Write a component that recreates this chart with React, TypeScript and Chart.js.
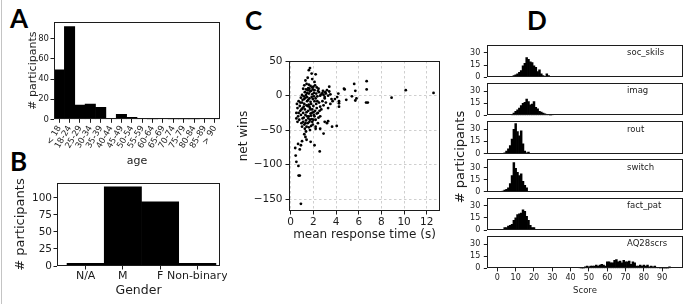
import React, { useEffect, useRef } from "react";
import { Chart, registerables } from "chart.js";
Chart.register(...registerables);

// ---------------- DATA ----------------
const ageCategories = ["< 18", "18-24", "25-29", "30-34", "35-39", "40-44", "45-49", "50-54", "55-59", "60-64", "65-69", "70-74", "75-79", "80-84", "85-89", "> 90"];
const ageCounts = [49, 92, 14, 15, 12, 1, 5, 2, 1, 0, 1, 0, 0, 0, 1, 1];

const genderLabels = ["N/A", "M", "F", "Non-binary"];
const genderCounts = [4, 116, 94, 4];

// [mean response time (s), net wins]
const responseVsWins: [number, number][] = [
  [1.7, 40], [1.6, 37], [1.85, 32], [2.2, 31], [1.5, 26], [1.3, 22], [1.9, 24], [2.1, 20], [1.4, 17], [1.2, 15],
  [1.6, 16], [1.75, 14], [2.0, 13], [2.3, 12], [1.1, 10], [1.35, 9], [1.5, 8], [1.65, 10], [1.8, 7], [1.95, 9],
  [2.1, 8], [2.4, 7], [1.25, 5], [1.45, 4], [1.6, 3], [1.7, 6], [1.9, 2], [2.05, 4], [2.25, 3], [2.5, 5],
  [2.7, 2], [2.9, 1], [3.1, 3], [3.3, 0], [3.4, 6], [3.0, -2], [2.8, 4], [3.5, 2], [3.6, -5], [2.6, 0],
  [1.0, 1], [0.9, -3], [1.15, -1], [2.35, -1], [3.2, 8], [3.4, 13], [2.85, 7], [1.55, 11], [2.15, 15],
  [0.55, -12], [0.6, -18], [0.5, -25], [0.65, -30], [0.7, -8], [0.8, -15], [0.85, -22], [0.9, -28], [0.75, -35], [0.95, -40],
  [1.0, -10], [1.05, -18], [1.1, -25], [1.15, -32], [1.2, -12], [1.25, -20], [1.3, -28], [1.35, -36], [1.4, -45], [1.45, -8],
  [1.5, -15], [1.55, -22], [1.6, -30], [1.65, -38], [1.7, -18], [1.75, -26], [1.8, -12], [1.85, -34], [1.9, -20], [1.95, -42],
  [2.0, -15], [2.05, -28], [2.1, -8], [2.15, -22], [2.2, -35], [2.25, -12], [2.3, -18], [2.4, -25], [2.5, -10], [2.6, -16],
  [1.2, -5], [1.3, -3], [1.45, -2], [1.55, -6], [1.65, -4], [1.75, -9], [1.85, -2], [1.95, -5], [2.05, -1], [2.2, -4],
  [1.0, -45], [1.1, -38], [1.25, -48], [1.35, -52], [1.5, -40], [1.6, -46], [1.7, -50], [1.8, -44], [1.9, -38], [2.0, -35],
  [2.1, -30], [2.3, -26], [2.45, -32], [2.7, -20], [2.9, -14], [3.1, -10], [3.3, -18], [3.5, -12], [3.7, -8], [3.9, -5],
  [4.1, -2], [2.8, -8], [3.0, -4], [1.15, -16], [1.4, -24], [1.6, -13], [1.8, -29], [2.0, -24], [1.3, -40], [1.55, -33],
  [1.75, -20], [0.95, -20], [1.05, -33], [1.2, -42], [1.45, -30], [1.65, -16], [1.85, -25], [2.35, -8], [2.55, -22], [0.7, -25],
  [0.6, -38], [0.5, -33], [1.4, -14], [1.7, -35], [2.2, -48], [2.4, -40], [2.6, -30], [3.0, -38], [3.3, -37], [2.9, -55],
  [0.4, -76], [0.65, -70], [1.0, -66], [1.4, -64], [1.76, -67], [2.1, -72], [1.2, -56], [1.3, -60], [0.9, -72], [0.8, -78],
  [2.56, -81], [0.44, -87], [0.5, -96], [0.68, -102], [0.7, -116], [0.8, -116], [0.9, -157],
  [12.6, 4], [10.15, 8], [8.9, -3], [6.7, 21], [6.7, 9], [6.65, -10], [6.8, -10], [5.6, 17], [5.7, 7], [5.7, -7],
  [5.8, -4], [5.4, -1], [4.9, -6], [4.7, 10], [4.76, 9], [4.26, -8], [4.26, -11], [4.26, -16], [4.2, 3], [4.06, -44],
  [3.65, -45], [3.2, -40], [2.6, -48], [2.2, -45], [1.35, 1], [1.05, -6], [0.85, -10], [1.9, 12], [2.45, 10], [3.05, 5],
];

// Score histograms (bin start score + counts per integer score)
const socSkilsStart = 8;
const socSkilsCounts = [1, 2, 3, 4, 6, 8, 14, 17, 24, 22, 19, 18, 14, 12, 7, 9, 4, 2, 1, 4, 2];
const imagStart = 8;
const imagCounts = [1, 3, 5, 7, 9, 12, 15, 16, 20, 17, 13, 14, 17, 10, 8, 5, 4, 3, 2, 1, 1, 0, 1];
const routStart = 4;
const routCounts = [1, 3, 6, 10, 18, 30, 37, 27, 22, 28, 12, 3, 1, 2];
const switchStart = 3;
const switchCounts = [1, 2, 3, 5, 10, 20, 36, 29, 24, 20, 22, 13, 8, 5];
const factPatStart = 4;
const factPatCounts = [3, 3, 5, 6, 7, 12, 15, 19, 20, 21, 25, 23, 17, 12, 6, 3, 3];
const aq28Start = 45;
const aq28Counts = [1, 0, 0, 2, 3, 2, 3, 3, 3, 4, 3, 4, 5, 4, 3, 8, 8, 7, 7, 10, 11, 8, 9, 7, 10, 8, 8, 9, 5, 8, 7, 3, 3, 4, 3, 4, 3, 4, 2, 3, 2, 3, 1, 1, 0, 1, 0, 0, 0, 2];

const scoreSeries = [
  { name: "soc_skils", start: socSkilsStart, counts: socSkilsCounts },
  { name: "imag", start: imagStart, counts: imagCounts },
  { name: "rout", start: routStart, counts: routCounts },
  { name: "switch", start: switchStart, counts: switchCounts },
  { name: "fact_pat", start: factPatStart, counts: factPatCounts },
  { name: "AQ28scrs", start: aq28Start, counts: aq28Counts },
];

const ageTicks = [0, 20, 40, 60, 80];
const genderTicks = [0, 25, 50, 75, 100];
const winsTicks = [-150, -100, -50, 0, 50];
const timeTicks = [0, 2, 4, 6, 8, 10, 12];
const countTicks = [0, 15, 30];
const scoreTicks = [0, 10, 20, 30, 40, 50, 60, 70, 80, 90];

// ---------------- STYLE HELPERS ----------------
const FONT = "'DejaVu Sans', sans-serif";
const INK = "#1c1c1c";

const framePlugin = {
  id: "frame",
  afterDraw(chart: any) {
    const { ctx, chartArea: a } = chart;
    ctx.save();
    ctx.strokeStyle = INK;
    ctx.lineWidth = 1;
    const l = Math.round(a.left), t = Math.round(a.top), r = Math.round(a.right), b = Math.round(a.bottom);
    ctx.strokeRect(l + 0.5, t + 0.5, r - l - 1, b - t - 1);
    ctx.restore();
  },
};

const fit = (w?: number, h?: number) => (s: any) => {
  if (w !== undefined) s.width = w;
  if (h !== undefined) s.height = h;
  s.paddingLeft = 0; s.paddingRight = 0; s.paddingTop = 0; s.paddingBottom = 0;
};
const setTicks = (vals: number[]) => (s: any) => { s.ticks = vals.map((v) => ({ value: v })); };
const minusFmt = (v: any) => (Number(v) < 0 ? "\u2212" + Math.abs(Number(v)) : String(v));
const tickGrid = (len: number) => ({ display: true, drawOnChartArea: false, drawTicks: true, tickLength: len, tickColor: INK, tickWidth: 1, offset: false });
const font = (size: number) => ({ family: FONT, size, lineHeight: 1.2 });

const baseOpts = (padding: any) => ({
  animation: false,
  responsive: false,
  devicePixelRatio: 1,
  layout: { padding },
  plugins: { legend: { display: false }, tooltip: { enabled: false } },
});

// ---------------- CHART CANVAS ----------------
function ChartCanvas({ left, top, width, height, make }: { left: number; top: number; width: number; height: number; make: () => any }) {
  const ref = useRef<HTMLCanvasElement>(null);
  useEffect(() => {
    const chart = new Chart(ref.current as HTMLCanvasElement, make());
    return () => chart.destroy();
  }, []);
  return <canvas ref={ref} width={width} height={height} style={{ position: "absolute", left, top, width, height }} />;
}

const makeAge = () => ({
  type: "bar",
  data: { labels: ageCategories, datasets: [{ data: ageCounts, backgroundColor: "#000", borderWidth: 0, barPercentage: 1, categoryPercentage: 1 }] },
  options: {
    ...baseOpts({ left: 0, top: 10, right: 7, bottom: 0 }),
    scales: {
      x: {
        type: "category", offset: true, grid: tickGrid(3.5), border: { display: false },
        ticks: { autoSkip: false, minRotation: 60, maxRotation: 60, padding: 1, color: INK, font: font(8.5) },
        title: { display: true, text: "age", color: INK, font: font(11), padding: { top: 0, bottom: 1 } },
        afterFit: fit(undefined, 49.7),
      },
      y: {
        min: 0, max: 96.6, grid: tickGrid(3.5), border: { display: false },
        afterBuildTicks: setTicks(ageTicks),
        ticks: { padding: 1.5, color: INK, font: font(8.5) },
        title: { display: true, text: "# participants", color: INK, font: font(11), padding: 0 },
        afterFit: fit(27),
      },
    },
  },
  plugins: [framePlugin],
});

const makeGender = () => ({
  type: "bar",
  data: { datasets: [{ data: genderCounts.map((c, i) => ({ x: i, y: c })), backgroundColor: "#000", borderWidth: 0, barPercentage: 1, categoryPercentage: 1 }] },
  options: {
    ...baseOpts({ left: 0, top: 10, right: 7, bottom: 0 }),
    scales: {
      x: {
        type: "linear", min: -0.77, max: 3.61, offset: false, grid: tickGrid(3.5), border: { display: false },
        afterBuildTicks: setTicks([0, 1, 2, 3]),
        ticks: { autoSkip: false, minRotation: 0, maxRotation: 0, padding: 0.5, color: INK, font: font(11), callback: (v: any) => genderLabels[Number(v)] ?? "" },
        title: { display: true, text: "Gender", color: INK, font: font(12.5), padding: 0 },
        afterFit: fit(undefined, 32),
      },
      y: {
        min: 0, max: 121.8, grid: tickGrid(3.5), border: { display: false },
        afterBuildTicks: setTicks(genderTicks),
        ticks: { padding: 1.5, color: INK, font: font(10.5) },
        title: { display: true, text: "# participants", color: INK, font: font(13), padding: 0 },
        afterFit: fit(44),
      },
    },
  },
  plugins: [framePlugin],
});

const makeScatter = () => ({
  type: "scatter",
  data: { datasets: [{ data: responseVsWins.map(([x, y]) => ({ x, y })), backgroundColor: "#000", borderWidth: 0, pointRadius: 1.4 }] },
  options: {
    ...baseOpts({ left: 0, top: 11, right: 6, bottom: 0 }),
    scales: {
      x: {
        type: "linear", min: -0.15, max: 13.17,
        grid: { display: true, drawOnChartArea: true, drawTicks: true, tickLength: 3.5, color: "#cfcfcf", tickColor: INK, lineWidth: 1 },
        border: { display: false, dash: [2.5, 2.5] },
        afterBuildTicks: setTicks(timeTicks),
        ticks: { minRotation: 0, maxRotation: 0, padding: 1, color: INK, font: font(10.5) },
        title: { display: true, text: "mean response time (s)", color: INK, font: font(12), padding: 0 },
        afterFit: fit(undefined, 31),
      },
      y: {
        min: -167.4, max: 50.3,
        grid: { display: true, drawOnChartArea: true, drawTicks: true, tickLength: 3.5, color: "#cfcfcf", tickColor: INK, lineWidth: 1 },
        border: { display: false, dash: [2.5, 2.5] },
        afterBuildTicks: setTicks(winsTicks),
        ticks: { padding: 3, color: INK, font: font(10.5), callback: minusFmt },
        title: { display: true, text: "net wins", color: INK, font: font(12), padding: 0 },
        afterFit: fit(52),
      },
    },
  },
  plugins: [framePlugin],
});

const makeScore = (idx: number, padTop: number, padBottom: number, showX: boolean, xHeight: number) => () => {
  const s = scoreSeries[idx];
  return {
    type: "bar",
    data: { datasets: [{ data: s.counts.map((c, i) => ({ x: s.start + i, y: c })), backgroundColor: "#000", borderWidth: 0, barPercentage: 1, categoryPercentage: 1 }] },
    options: {
      ...baseOpts({ left: 0, top: padTop, right: 2.3, bottom: padBottom }),
      scales: {
        x: {
          type: "linear", min: -5.5, max: 101.2, offset: false, display: showX,
          grid: tickGrid(3), border: { display: false },
          afterBuildTicks: setTicks(scoreTicks),
          ticks: { minRotation: 0, maxRotation: 0, autoSkip: false, padding: 1.5, color: INK, font: font(8) },
          title: { display: true, text: "Score", color: INK, font: font(8.5), padding: 0 },
          afterFit: fit(undefined, xHeight),
        },
        y: {
          min: 0, max: 40, grid: tickGrid(3.5), border: { display: false },
          afterBuildTicks: setTicks(countTicks),
          ticks: { padding: 3.5, color: INK, font: font(8) },
          afterFit: fit(20.3),
        },
      },
    },
    plugins: [framePlugin],
  };
};

const subTops = [44.7, 82.9, 121.1, 159.3, 197.6, 235.9];
const subH = 32.5;

function Letter({ ch, left, capTop }: { ch: string; left: number; capTop: number }) {
  return (
    <div style={{ position: "absolute", left, top: capTop - 4.4, font: "700 26px Lato, 'Open Sans', sans-serif", lineHeight: "26px", color: "#000" }}>{ch}</div>
  );
}

export default function App() {
  return (
    <div style={{ position: "fixed", left: 0, top: 0, width: 685, height: 304, background: "#fff", overflow: "hidden" }}>
      <div style={{ position: "absolute", left: 1, top: 0, width: 1, height: 304, background: "#c4c4c4" }} />
      <Letter ch="A" left={10} capTop={9} />
      <Letter ch="B" left={10} capTop={152} />
      <Letter ch="C" left={245} capTop={11} />
      <Letter ch="D" left={527} capTop={11} />

      <ChartCanvas left={27} top={12} width={200} height={157} make={makeAge} />
      <ChartCanvas left={13} top={173} width={214} height={125} make={makeGender} />
      <ChartCanvas left={237} top={50} width={209} height={192} make={makeScatter} />

      {subTops.map((t, i) => {
        const last = i === subTops.length - 1;
        const cTop = Math.floor(t) - 5;
        const cH = last ? 296 - cTop : 43;
        const padTop = t - cTop;
        const xH = last ? cTop + cH - (t + subH) : 0;
        const padBottom = last ? 0 : cTop + cH - (t + subH);
        return <ChartCanvas key={i} left={467} top={cTop} width={218} height={cH} make={makeScore(i, padTop, padBottom, last, xH)} />;
      })}

      {scoreSeries.map((s, i) => (
        <div key={s.name} style={{ position: "absolute", left: 627, top: subTops[i] + 2.5, font: `8.5px ${FONT}`, lineHeight: "10px", color: INK, whiteSpace: "nowrap" }}>{s.name}</div>
      ))}

      <div style={{ position: "absolute", left: 460 - 60, top: 157 - 8, width: 120, height: 16, textAlign: "center", font: `13px ${FONT}`, lineHeight: "16px", color: INK, transform: "rotate(-90deg)", whiteSpace: "nowrap" }}># participants</div>
    </div>
  );
}
